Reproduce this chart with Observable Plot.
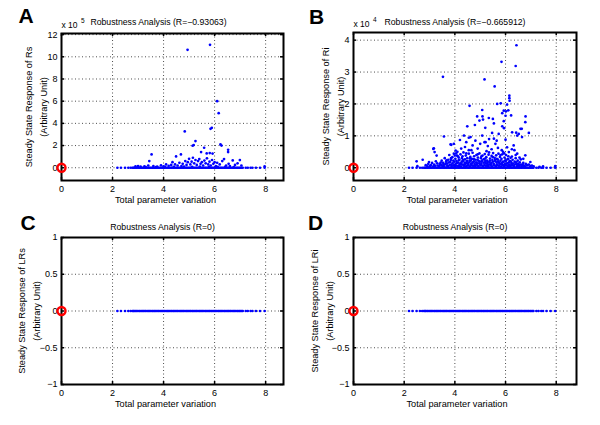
<!DOCTYPE html>
<html>
<head>
<meta charset="utf-8">
<script src="https://cdn.jsdelivr.net/npm/d3@7"></script>
<script src="https://cdn.jsdelivr.net/npm/@observablehq/plot@0.6"></script>
<style>
  html, body { margin: 0; padding: 0; background: #fff; }
  #chart { position: relative; width: 600px; height: 425px; background: #fff; overflow: hidden; }
  #chart > div { position: absolute; }
  svg { overflow: visible; }
</style>
</head>
<body>
<div id="chart"></div>
<script>
// ---------- data ----------
const panelLetters = ["A", "B", "C", "D"];
const panelTitles = [
  "Robustness Analysis (R=\u22120.93063)",
  "Robustness Analysis (R=\u22120.665912)",
  "Robustness Analysis (R=0)",
  "Robustness Analysis (R=0)"
];
const yLabels = [
  "Steady State Response of Rs\n(Arbitrary Unit)",
  "Steady State Response of Ri\n(Arbitrary Unit)",
  "Steady State Response of LRs\n(Arbitrary Unit)",
  "Steady State Response of LRi\n(Arbitrary Unit)"
];
const xLabel = "Total parameter variation";
const exponents = ["5", "4", null, null];

const xTicks = [0, 2, 4, 6, 8];
const yTicksA = [0, 2, 4, 6, 8, 10, 12];
const yTicksB = [0, 1, 2, 3, 4];
const yTicksCD = [-1, -0.5, 0, 0.5, 1];

// nominal parameter set (red circle)
const nominalX = [0];
const nominalY = [0];

// total parameter variation of samples whose response is ~0 (shared by all panels)
const bandVariation = [
  2.19, 2.33, 2.49, 2.62, 2.71,
  2.78, 2.82, 2.85, 2.90, 2.94, 2.99, 3.04, 3.08, 3.13, 3.18, 3.22, 3.27, 3.31, 3.36,
  3.41, 3.45, 3.50, 3.55, 3.59, 3.64, 3.68, 3.73, 3.78, 3.82, 3.87, 3.92, 3.96, 4.01,
  4.05, 4.10, 4.15, 4.19, 4.24, 4.29, 4.33, 4.38, 4.42, 4.47, 4.52, 4.56, 4.61, 4.66,
  4.70, 4.75, 4.79, 4.84, 4.89, 4.93, 4.98, 5.03, 5.07, 5.12, 5.16, 5.21, 5.26, 5.30,
  5.35, 5.40, 5.44, 5.49, 5.53, 5.58, 5.63, 5.67, 5.72, 5.77, 5.81, 5.86, 5.90, 5.95,
  6.00, 6.04, 6.09, 6.14, 6.18, 6.23, 6.27, 6.32, 6.37, 6.41, 6.46, 6.51, 6.55, 6.60,
  6.64, 6.69, 6.74, 6.78, 6.83, 6.88, 6.92, 6.97, 7.01, 7.06, 7.10,
  7.22, 7.30, 7.41, 7.48, 7.62, 7.78, 7.96
];

// Panel A: response of Rs (x 10^5), samples above the zero band
const samplesA = [
  [4.94, 10.63], [5.82, 11.08], [6.10, 6.0], [6.16, 4.92], [5.84, 3.51], [5.89, 3.6],
  [4.83, 3.27], [5.25, 2.4], [5.14, 1.98], [5.18, 2.05], [6.23, 2.1], [6.27, 2.0],
  [5.59, 1.8], [3.53, 1.2], [4.68, 1.2], [4.49, 1.02], [5.47, 1.41], [5.69, 1.29],
  [5.81, 1.32], [5.92, 1.28], [6.53, 1.62], [6.53, 1.41], [6.37, 0.78], [6.71, 0.66],
  [6.99, 0.69], [3.44, 0.6], [5.40, 0.78],
  [2.90, 0.12], [3.0, 0.15], [3.1, 0.1], [3.25, 0.12], [3.4, 0.2], [3.6, 0.15],
  [3.75, 0.1], [3.9, 0.22], [4.0, 0.12], [4.1, 0.3], [4.2, 0.18], [4.3, 0.25],
  [4.35, 0.5], [4.45, 0.3], [4.55, 0.2], [4.62, 0.45], [4.7, 0.15], [4.75, 0.35],
  [4.85, 0.6], [4.9, 0.25], [4.95, 0.5], [5.0, 0.8], [5.05, 0.3], [5.1, 0.55],
  [5.15, 0.9], [5.2, 0.4], [5.25, 0.7], [5.3, 0.25], [5.35, 0.6], [5.45, 0.35],
  [5.5, 0.5], [5.55, 0.2], [5.6, 0.65], [5.65, 0.4], [5.7, 0.85], [5.75, 0.3],
  [5.8, 0.55], [5.85, 0.2], [5.9, 0.7], [5.95, 0.35], [6.0, 0.5], [6.05, 0.15],
  [6.1, 0.45], [6.2, 0.3], [6.3, 0.6], [6.45, 0.2], [6.55, 0.35], [6.6, 0.15],
  [6.8, 0.25], [6.9, 0.4], [7.05, 0.2],
  [3.3, 0.05], [3.7, 0.06], [4.05, 0.08], [4.4, 0.07], [4.8, 0.1], [5.12, 0.08],
  [5.42, 0.1], [5.78, 0.07], [6.12, 0.09], [6.42, 0.08], [6.75, 0.06], [7.96, 0.12]
];

// Panel B: response of Ri (x 10^4), samples above the zero band
const samplesB = [
  [6.43, 3.84], [5.84, 3.32], [6.40, 3.19], [3.53, 2.85], [5.17, 2.77], [5.57, 2.55],
  [6.15, 2.26], [6.15, 2.18], [6.16, 2.10], [5.81, 2.02], [5.67, 2.00], [4.58, 1.94],
  [6.06, 1.98], [6.11, 1.80], [6.02, 1.77], [5.08, 1.81], [6.79, 1.61], [4.88, 1.61],
  [5.09, 1.61], [5.34, 1.56], [5.50, 1.53], [6.22, 1.64], [6.00, 1.63], [5.87, 1.71],
  [5.93, 1.79], [5.11, 1.51], [4.97, 1.48], [5.54, 1.39], [5.93, 1.46], [6.78, 1.43],
  [4.49, 1.30], [4.79, 1.34], [5.87, 1.30], [5.20, 1.25], [5.94, 1.24], [6.64, 1.22],
  [6.59, 1.22], [6.42, 1.10], [6.26, 1.11], [6.92, 1.09], [6.52, 1.06], [5.73, 1.06],
  [5.47, 1.09], [6.46, 1.01], [4.36, 1.01], [5.08, 1.01], [3.57, 0.98], [4.62, 0.96],
  [6.65, 0.96], [4.55, 0.94], [5.54, 0.91], [4.20, 0.87], [4.81, 0.85], [5.17, 0.80],
  [5.21, 0.80], [3.96, 0.75], [5.60, 0.75], [3.83, 0.73], [3.86, 0.72], [6.32, 0.70],
  [6.06, 0.64], [3.17, 0.61], [3.15, 0.59], [4.03, 0.54], [3.20, 0.49], [6.13, 0.49],
  [6.46, 0.44], [3.28, 0.38], [6.78, 0.39], [4.09, 0.38], [3.96, 0.44], [2.73, 0.25],
  [2.49, 0.20], [2.52, 0.05], [3.44, 0.16], [3.67, 0.23], [2.98, 0.18], [6.98, 0.18],
  [4.40, 0.65], [4.70, 0.70], [4.90, 0.60], [5.30, 0.68], [5.45, 0.58], [5.70, 0.62],
  [5.85, 0.55], [6.25, 0.58], [4.25, 0.60], [4.55, 0.55], [5.00, 0.75], [5.65, 0.85],
  [6.00, 0.88], [4.45, 0.80], [5.35, 0.90],
  [3.85, 0.30], [4.00, 0.38], [4.15, 0.32], [4.30, 0.36], [4.45, 0.45], [4.60, 0.30],
  [4.75, 0.27], [4.90, 0.42], [5.05, 0.36], [5.20, 0.29], [5.35, 0.48], [5.50, 0.33],
  [5.65, 0.28], [5.80, 0.40], [5.95, 0.45], [6.10, 0.27], [6.25, 0.35], [6.40, 0.40],
  [6.55, 0.32], [6.70, 0.28], [4.10, 0.50], [4.65, 0.55], [5.25, 0.52], [5.90, 0.50],
  [6.35, 0.55],
  [2.85, 0.08], [2.95, 0.12], [3.02, 0.05], [3.10, 0.15], [3.18, 0.10], [3.25, 0.20],
  [3.32, 0.07], [3.40, 0.12], [3.48, 0.22], [3.55, 0.09], [3.60, 0.30], [3.65, 0.14],
  [3.70, 0.06], [3.74, 0.25], [3.78, 0.40], [3.82, 0.18], [3.86, 0.10], [3.90, 0.33],
  [3.94, 0.22], [3.98, 0.08], [4.02, 0.28], [4.05, 0.45], [4.08, 0.15], [4.12, 0.36],
  [4.15, 0.05], [4.18, 0.25], [4.22, 0.42], [4.25, 0.12], [4.28, 0.30], [4.31, 0.20],
  [4.34, 0.48], [4.37, 0.10], [4.40, 0.26], [4.43, 0.38], [4.46, 0.16], [4.49, 0.30],
  [4.52, 0.07], [4.55, 0.44], [4.58, 0.22], [4.61, 0.34], [4.64, 0.12], [4.67, 0.28],
  [4.70, 0.47], [4.73, 0.18], [4.76, 0.36], [4.79, 0.08], [4.82, 0.25], [4.85, 0.40],
  [4.88, 0.14], [4.91, 0.32], [4.94, 0.21], [4.97, 0.45], [5.00, 0.10], [5.03, 0.30],
  [5.06, 0.19], [5.09, 0.38], [5.12, 0.06], [5.15, 0.27], [5.18, 0.43], [5.21, 0.15],
  [5.24, 0.33], [5.27, 0.22], [5.30, 0.09], [5.33, 0.41], [5.36, 0.18], [5.39, 0.29],
  [5.42, 0.12], [5.45, 0.37], [5.48, 0.24], [5.51, 0.46], [5.54, 0.10], [5.57, 0.31],
  [5.60, 0.20], [5.63, 0.39], [5.66, 0.08], [5.69, 0.26], [5.72, 0.44], [5.75, 0.16],
  [5.78, 0.34], [5.81, 0.11], [5.84, 0.28], [5.87, 0.42], [5.90, 0.19], [5.93, 0.07],
  [5.96, 0.32], [5.99, 0.23], [6.02, 0.40], [6.05, 0.13], [6.08, 0.27], [6.11, 0.36],
  [6.14, 0.09], [6.17, 0.21], [6.20, 0.31], [6.24, 0.14], [6.28, 0.25], [6.32, 0.06],
  [6.36, 0.19], [6.40, 0.30], [6.44, 0.11], [6.48, 0.22], [6.52, 0.08], [6.56, 0.17],
  [6.60, 0.26], [6.65, 0.10], [6.70, 0.15], [6.75, 0.06], [6.80, 0.12], [6.86, 0.08],
  [6.92, 0.10], [6.98, 0.05], [7.04, 0.07], [7.11, 0.04], [7.34, 0.03], [7.48, 0.04],
  [7.96, 0.05],
  [3.50, 0.06], [3.54, 0.15], [3.58, 0.04], [3.62, 0.11], [3.66, 0.20], [3.70, 0.13],
  [3.73, 0.05], [3.77, 0.17], [3.80, 0.09], [3.84, 0.24], [3.87, 0.04], [3.91, 0.14],
  [3.94, 0.07], [3.97, 0.19], [4.00, 0.05], [4.03, 0.12], [4.06, 0.21], [4.09, 0.06],
  [4.12, 0.16], [4.15, 0.23], [4.18, 0.09], [4.21, 0.14], [4.24, 0.04], [4.27, 0.19],
  [4.30, 0.10], [4.33, 0.24], [4.36, 0.06], [4.39, 0.16], [4.42, 0.12], [4.45, 0.05],
  [4.48, 0.21], [4.51, 0.13], [4.54, 0.09], [4.57, 0.17], [4.60, 0.04], [4.63, 0.22],
  [4.66, 0.08], [4.69, 0.15], [4.72, 0.06], [4.75, 0.20], [4.78, 0.12], [4.81, 0.04],
  [4.84, 0.17], [4.87, 0.09], [4.90, 0.24], [4.93, 0.05], [4.96, 0.14], [4.99, 0.19],
  [5.02, 0.07], [5.05, 0.12], [5.08, 0.23], [5.11, 0.04], [5.14, 0.16], [5.17, 0.09],
  [5.20, 0.21], [5.23, 0.06], [5.26, 0.13], [5.29, 0.18], [5.32, 0.05], [5.35, 0.11],
  [5.38, 0.22], [5.41, 0.07], [5.44, 0.15], [5.47, 0.04], [5.50, 0.19], [5.53, 0.12],
  [5.56, 0.08], [5.59, 0.24], [5.62, 0.05], [5.65, 0.16], [5.68, 0.10], [5.71, 0.20],
  [5.74, 0.06], [5.77, 0.13], [5.80, 0.22], [5.83, 0.04], [5.86, 0.15], [5.89, 0.09],
  [5.92, 0.18], [5.95, 0.05], [5.98, 0.12], [6.01, 0.21], [6.04, 0.07], [6.07, 0.14],
  [6.10, 0.04], [6.13, 0.17], [6.16, 0.10], [6.19, 0.05], [6.22, 0.19], [6.26, 0.08],
  [6.30, 0.13], [6.34, 0.04], [6.38, 0.11], [6.42, 0.17], [6.46, 0.05], [6.50, 0.12],
  [6.54, 0.06], [6.58, 0.10], [6.63, 0.04], [6.68, 0.08], [6.73, 0.05], [6.78, 0.03],
  [2.92, 0.04], [3.05, 0.08], [3.15, 0.04], [3.22, 0.06], [3.30, 0.14], [3.38, 0.05],
  [3.45, 0.09]
];

// Panels C and D: responses of LRs and LRi are all zero
const samplesC = [];
const samplesD = [];

// ---------- drawing ----------
const fmt = d => (d < 0 ? "\u2212" + Math.abs(d) : String(d));
const FONT = "'Liberation Sans', Arial, Helvetica, sans-serif";

function panel(cfg) {
  const W = 300, H = 212;
  const innerW = W - cfg.ml - cfg.mr;
  const innerH = H - cfg.mt - cfg.mb;
  const pts = bandVariation.map(x => ({x, y: 0}))
    .concat(cfg.samples.map(([x, y]) => ({x, y})));
  const nominal = nominalX.map((x, i) => ({x, y: nominalY[i]}));
  const grid = {stroke: "black", strokeOpacity: 1, strokeWidth: 0.7, strokeDasharray: "1,2.5"};
  const marks = [
    Plot.gridX({ticks: xTicks.filter(d => d > 0), ...grid}),
    Plot.gridY({ticks: cfg.yTicks, ...grid}),
    Plot.axisX({ticks: xTicks, tickSize: 0, tickPadding: 5, label: null, tickFormat: fmt, fontSize: 9}),
    Plot.axisY({ticks: cfg.yTicks, tickSize: 0, tickPadding: 4, label: null, tickFormat: fmt, fontSize: 9}),
    Plot.dot(pts, {x: "x", y: "y", r: 1.35, fill: "#0000ff"}),
    Plot.tickX(xTicks, {x: d => d, insetBottom: innerH - 3, stroke: "black", strokeWidth: 1.5}),
    Plot.tickX(xTicks, {x: d => d, insetTop: innerH - 3, stroke: "black", strokeWidth: 1.5}),
    Plot.tickY(cfg.yTicks, {y: d => d, insetRight: innerW - 3, stroke: "black", strokeWidth: 1.5}),
    Plot.tickY(cfg.yTicks, {y: d => d, insetLeft: innerW - 3, stroke: "black", strokeWidth: 1.5}),
    Plot.frame({stroke: "black", strokeWidth: 2}),
    Plot.dot(nominal, {x: "x", y: "y", r: 4, stroke: "#ff0000", strokeWidth: 2.4}),
    Plot.text([cfg.title], {text: d => d, frameAnchor: "top", dx: cfg.titleDx, dy: cfg.titleDy, lineAnchor: "middle", fontSize: 8.7}),
    Plot.text([xLabel], {text: d => d, frameAnchor: "bottom", dx: cfg.xlabDx, dy: 20, lineAnchor: "middle", fontSize: 9.2}),
    Plot.text([cfg.ylabel], {text: d => d, frameAnchor: "left", rotate: -90, dx: cfg.ylabDx, lineAnchor: "middle", textAnchor: "middle", fontSize: 9.2, lineHeight: 1.62}),
    Plot.text([cfg.letter], {text: d => d, frameAnchor: "top-left", textAnchor: "start", lineAnchor: "middle", dx: cfg.letterDx, dy: cfg.letterDy, fontSize: 21, fontWeight: "bold", fontFamily: "'Liberation Sans', Arial, sans-serif"})
  ];
  if (cfg.exponent) {
    marks.push(
      Plot.text(["x 10"], {text: d => d, frameAnchor: "top-left", textAnchor: "start", lineAnchor: "middle", dx: 0, dy: -8, fontSize: 8.5}),
      Plot.text([cfg.exponent], {text: d => d, frameAnchor: "top-left", textAnchor: "start", lineAnchor: "middle", dx: 19.5, dy: -12.5, fontSize: 6.5})
    );
  }
  const svg = Plot.plot({
    width: W, height: H,
    marginLeft: cfg.ml, marginRight: cfg.mr, marginTop: cfg.mt, marginBottom: cfg.mb,
    style: {fontFamily: FONT, fontSize: "9px", color: "black", background: "transparent", overflow: "visible"},
    x: {domain: cfg.xDomain},
    y: {domain: cfg.yDomain},
    marks
  });
  const wrap = document.createElement("div");
  wrap.style.left = cfg.left + "px";
  wrap.style.top = cfg.top + "px";
  wrap.appendChild(svg);
  document.getElementById("chart").appendChild(wrap);
}

panel({letter: panelLetters[0], title: panelTitles[0], ylabel: yLabels[0], exponent: exponents[0],
  samples: samplesA, yTicks: yTicksA, xDomain: [0, 8.7], yDomain: [-1.15, 12.1],
  left: 0, top: 0, ml: 61, mr: 17, mt: 33, mb: 32,
  titleDx: -14, titleDy: -11, xlabDx: -7, ylabDx: -26.5, letterDx: -43, letterDy: -17});

panel({letter: panelLetters[1], title: panelTitles[1], ylabel: yLabels[1], exponent: exponents[1],
  samples: samplesB, yTicks: yTicksB, xDomain: [0, 8.8], yDomain: [-0.4, 4.24],
  left: 292, top: 0, ml: 61, mr: 16, mt: 32, mb: 32,
  titleDx: -10, titleDy: -10, xlabDx: -8, ylabDx: -21.5, letterDx: -44.5, letterDy: -15.5});

panel({letter: panelLetters[2], title: panelTitles[2], ylabel: yLabels[2], exponent: exponents[2],
  samples: samplesC, yTicks: yTicksCD, xDomain: [0, 8.7], yDomain: [-1, 1],
  left: 0, top: 210, ml: 61, mr: 17, mt: 27, mb: 38,
  titleDx: -10, titleDy: -10.5, xlabDx: -7, ylabDx: -33.5, letterDx: -41, letterDy: -14});

panel({letter: panelLetters[3], title: panelTitles[3], ylabel: yLabels[3], exponent: exponents[3],
  samples: samplesD, yTicks: yTicksCD, xDomain: [0, 8.8], yDomain: [-1, 1],
  left: 292, top: 210, ml: 61, mr: 16, mt: 27, mb: 38,
  titleDx: -10, titleDy: -10.5, xlabDx: -8, ylabDx: -33, letterDx: -45.5, letterDy: -14});
</script>
</body>
</html>
